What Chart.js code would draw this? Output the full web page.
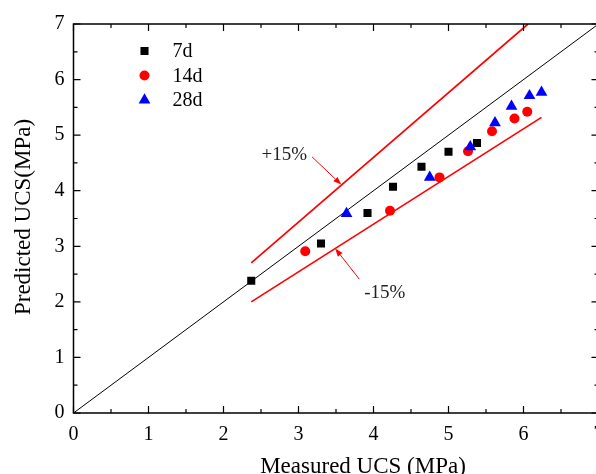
<!DOCTYPE html>
<html><head><meta charset="utf-8">
<script src="https://cdn.jsdelivr.net/npm/chart.js@4"></script>
<style>html,body{margin:0;padding:0;background:#fff;overflow:hidden}
#wrap{width:596px;height:474px;overflow:hidden;position:relative;background:#fff}
canvas{display:block}</style></head>
<body><div id="wrap"><canvas id="c" width="640" height="474"></canvas></div>
<script>
const xTicks = [0, 1, 2, 3, 4, 5, 6, 7];
const yTicks = [0, 1, 2, 3, 4, 5, 6, 7];
const minorTicks = [0.5, 1.5, 2.5, 3.5, 4.5, 5.5, 6.5];
const seriesNames = ['7d', '14d', '28d'];

const x7d = [2.37, 3.30, 3.92, 4.26, 4.64, 5.00, 5.38];
const y7d = [2.38, 3.05, 3.60, 4.07, 4.43, 4.70, 4.86];
const x14d = [3.09, 4.22, 4.88, 5.26, 5.58, 5.88, 6.05];
const y14d = [2.91, 3.64, 4.24, 4.71, 5.07, 5.30, 5.42];
const x28d = [3.64, 4.75, 5.29, 5.62, 5.84, 6.08, 6.24];
const y28d = [3.59, 4.24, 4.79, 5.22, 5.52, 5.71, 5.77];

const refX = [0, 7], refY = [0, 7];
const upperX = [2.37, 6.06], upperY = [2.70, 7.00];
const lowerX = [2.37, 6.24], lowerY = [2.00, 5.32];

const annotLabels = ['+15%', '-15%'];
const annotTextX = [2.81, 4.15], annotTextY = [4.64, 2.16];
const arrowFromX = [3.18, 3.81], arrowFromY = [4.61, 2.41];
const arrowToX = [3.57, 3.49], arrowToY = [4.11, 2.96];

const xTitle = 'Measured UCS (MPa)';
const yTitle = 'Predicted UCS(MPa)';

const pts = (xs, ys) => xs.map((v, i) => ({x: v, y: ys[i]}));
const SERIF = '"Liberation Serif", "Times New Roman", serif';

const markerStyles = [
  {pointStyle: 'rect', pointRadius: 5.7, color: '#000000'},
  {pointStyle: 'circle', pointRadius: 5, color: '#ff0000'},
  {pointStyle: 'triangle', pointRadius: 6.8, color: '#0000ff'}
];
const seriesX = [x7d, x14d, x28d], seriesY = [y7d, y14d, y28d];
const orders = [3, 2, 1];

const scatterSets = seriesNames.map((n, i) => ({
  label: n,
  data: pts(seriesX[i], seriesY[i]),
  pointStyle: markerStyles[i].pointStyle,
  pointRadius: markerStyles[i].pointRadius,
  pointBackgroundColor: markerStyles[i].color,
  pointBorderWidth: 0,
  showLine: false,
  order: orders[i]
}));

const lineSets = [
  {label: 'ref', data: pts(refX, refY), borderColor: '#000', borderWidth: 1, showLine: true, pointRadius: 0, order: 6},
  {label: 'up', data: pts(upperX, upperY), borderColor: '#ff0000', borderWidth: 1.7, showLine: true, pointRadius: 0, order: 5},
  {label: 'lo', data: pts(lowerX, lowerY), borderColor: '#ff0000', borderWidth: 1.7, showLine: true, pointRadius: 0, order: 4}
];

function drawMarker(ctx, style, r, cx, cy, color) {
  ctx.fillStyle = color;
  ctx.beginPath();
  if (style === 'rect') {
    const s = Math.SQRT1_2 * r;
    ctx.rect(cx - s, cy - s, 2 * s, 2 * s);
  } else if (style === 'circle') {
    ctx.arc(cx, cy, r, 0, Math.PI * 2);
  } else {
    ctx.moveTo(cx, cy - r);
    ctx.lineTo(cx + 0.866 * r, cy + r / 2);
    ctx.lineTo(cx - 0.866 * r, cy + r / 2);
    ctx.closePath();
  }
  ctx.fill();
}

const decor = {
  id: 'decor',
  afterDraw(chart) {
    const {ctx, chartArea: a, scales: {x, y}} = chart;
    ctx.save();
    ctx.strokeStyle = '#000';
    ctx.lineWidth = 1.5;
    ctx.strokeRect(a.left, a.top, a.right - a.left, a.bottom - a.top);
    ctx.lineWidth = 1.2;
    const xt = (v, len) => {
      const px = x.getPixelForValue(v);
      ctx.beginPath();
      ctx.moveTo(px, a.bottom); ctx.lineTo(px, a.bottom - len);
      ctx.moveTo(px, a.top); ctx.lineTo(px, a.top + len);
      ctx.stroke();
    };
    const yt = (v, len) => {
      const py = y.getPixelForValue(v);
      ctx.beginPath();
      ctx.moveTo(a.left, py); ctx.lineTo(a.left + len, py);
      ctx.moveTo(a.right, py); ctx.lineTo(a.right - len, py);
      ctx.stroke();
    };
    xTicks.forEach(v => xt(v, 7)); minorTicks.forEach(v => xt(v, 4));
    yTicks.forEach(v => yt(v, 7)); minorTicks.forEach(v => yt(v, 4));

    ctx.strokeStyle = '#ff0000'; ctx.fillStyle = '#ff0000'; ctx.lineWidth = 1;
    for (let i = 0; i < arrowFromX.length; i++) {
      const x0 = x.getPixelForValue(arrowFromX[i]), y0 = y.getPixelForValue(arrowFromY[i]);
      const x1 = x.getPixelForValue(arrowToX[i]), y1 = y.getPixelForValue(arrowToY[i]);
      const ang = Math.atan2(y1 - y0, x1 - x0);
      const L = 8, W = 3;
      ctx.beginPath(); ctx.moveTo(x0, y0);
      ctx.lineTo(x1 - L * Math.cos(ang), y1 - L * Math.sin(ang)); ctx.stroke();
      ctx.beginPath(); ctx.moveTo(x1, y1);
      ctx.lineTo(x1 - L * Math.cos(ang) + W * Math.sin(ang), y1 - L * Math.sin(ang) - W * Math.cos(ang));
      ctx.lineTo(x1 - L * Math.cos(ang) - W * Math.sin(ang), y1 - L * Math.sin(ang) + W * Math.cos(ang));
      ctx.closePath(); ctx.fill();
    }
    ctx.fillStyle = '#222';
    ctx.font = '19px ' + SERIF;
    ctx.textAlign = 'center'; ctx.textBaseline = 'middle';
    annotLabels.forEach((t, i) => ctx.fillText(t, x.getPixelForValue(annotTextX[i]), y.getPixelForValue(annotTextY[i])));

    ctx.font = '20px ' + SERIF;
    ctx.textAlign = 'left'; ctx.textBaseline = 'middle';
    seriesNames.forEach((n, i) => {
      const cy = a.top + 27 + i * 24.5;
      const cx = a.left + 71;
      const ms = markerStyles[i];
      drawMarker(ctx, ms.pointStyle, ms.pointRadius, cx, cy, ms.color);
      ctx.fillStyle = '#000';
      ctx.fillText(n, a.left + 99, cy + 1);
    });

    ctx.fillStyle = '#000';
    ctx.font = '23px ' + SERIF;
    ctx.textAlign = 'center'; ctx.textBaseline = 'alphabetic';
    ctx.fillText(xTitle, 363, 472.5);
    ctx.save();
    ctx.translate(30, 217);
    ctx.rotate(-Math.PI / 2);
    ctx.fillText(yTitle, 0, 0);
    ctx.restore();
    ctx.restore();
  }
};

new Chart(document.getElementById('c'), {
  type: 'scatter',
  data: {datasets: [...scatterSets, ...lineSets]},
  options: {
    responsive: false,
    animation: false,
    devicePixelRatio: 1,
    layout: {padding: {top: 24, right: 41.5, left: 0, bottom: 0}},
    plugins: {legend: {display: false}, tooltip: {enabled: false}},
    scales: {
      x: {
        type: 'linear', min: 0, max: 7,
        afterBuildTicks: s => { s.ticks = xTicks.map(v => ({value: v})); },
        ticks: {padding: 9.5, color: '#000', font: {family: SERIF, size: 20}},
        grid: {display: false, drawTicks: false},
        border: {display: false},
        afterFit: s => { s.height = 61; }
      },
      y: {
        type: 'linear', min: 0, max: 7,
        afterBuildTicks: s => { s.ticks = yTicks.map(v => ({value: v})); },
        ticks: {padding: 9, color: '#000', font: {family: SERIF, size: 20}},
        grid: {display: false, drawTicks: false},
        border: {display: false},
        afterFit: s => { s.width = 73.5; }
      }
    }
  },
  plugins: [decor]
});
</script></body></html>
